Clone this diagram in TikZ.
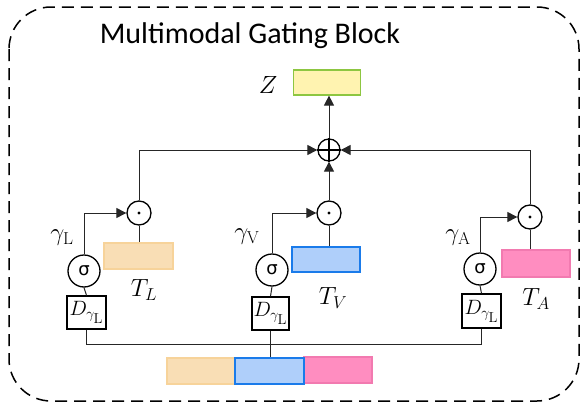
\documentclass[tikz,border=0pt]{standalone}
\usepackage[no-math]{fontspec}
\setmainfont{Carlito}
\newfontfamily\sigfont{DejaVu Sans}
\usetikzlibrary{arrows.meta}
\definecolor{orf}{HTML}{F9DEB5}
\definecolor{ord}{HTML}{F7D39A}
\definecolor{blf}{HTML}{AFCFFA}
\definecolor{bld}{HTML}{1A7BEA}
\definecolor{pkf}{HTML}{FF8DC0}
\definecolor{pkd}{HTML}{F27AB0}
\definecolor{zf}{HTML}{FFF3B0}
\definecolor{zd}{HTML}{8DC641}
\newcommand{\dgam}{$D_{\gamma_{\scriptstyle\mathrm{L}}}$}
\begin{document}
\begin{tikzpicture}[x=1pt,y=-1pt,
  conn/.style={line width=1pt, draw=black!85},
  arr/.style={conn, -{Triangle[length=10pt,width=10pt]}},
  sigc/.style={circle, draw, line width=1.3pt, minimum size=32pt, inner sep=0pt, font=\sigfont\fontsize{18}{18}\selectfont},
  odc/.style={circle, draw, line width=1.3pt, minimum size=24pt, inner sep=0pt},
  dbox/.style={rectangle, draw, line width=1.3pt, minimum width=39pt, minimum height=33pt, inner sep=0pt, font=\fontsize{20}{20}\selectfont},
  bar/.style={rectangle, line width=1.2pt, minimum width=68pt, minimum height=26pt, inner sep=0pt},
  lab/.style={font=\fontsize{24}{24}\selectfont, inner sep=0pt}]
\useasboundingbox (0,0) rectangle (582,410);
\draw[line width=1.5pt, dash pattern=on 12pt off 7pt, rounded corners=42pt] (9,7) rectangle (579,401);
\node[font=\fontsize{30}{30}\selectfont, anchor=base, inner sep=0pt] (title) at (250,43) {Multimodal Gating Block};

% Z
\node[bar, fill=zf, draw=zd, minimum width=67pt, minimum height=25pt] (Z) at (327,82.5) {};
\node[lab] (Zl) at (268,85) {$Z$};
% oplus
\node[circle, draw, line width=1.3pt, minimum size=22pt, inner sep=0pt] (op) at (329,150) {};
\draw[line width=1.3pt] (op.north) -- (op.south) (op.west) -- (op.east);

% Left
\node[odc] (odL) at (139,213) {};
\fill (odL.center) circle (1.6pt);
\node[sigc] (sigL) at (84,271) {σ};
\node[dbox] (DL) at (86.5,312.5) {\dgam};
\node[bar, fill=orf, draw=ord, minimum width=69pt] (TL) at (138.5,256) {};
\node[lab] (gL) at (62,238) {$\gamma_{\mathrm{L}}$};
\node[lab] (tL) at (144,290) {$T_L$};

% Middle
\node[odc] (odV) at (329,213) {};
\fill (odV.center) circle (1.6pt);
\node[sigc] (sigV) at (272,270) {σ};
\node[dbox, minimum width=37pt] (DV) at (270.5,313.5) {\dgam};
\node[bar, fill=blf, draw=bld, minimum height=25pt] (TV) at (326,259.5) {};
\node[lab] (gV) at (247,237) {$\gamma_{\mathrm{V}}$};
\node[lab] (tV) at (333,298) {$T_V$};

% Right
\node[odc] (odA) at (530,217) {};
\fill (odA.center) circle (1.6pt);
\node[sigc] (sigA) at (480,269) {σ};
\node[dbox, minimum height=34pt] (DA) at (481.5,311) {\dgam};
\node[bar, fill=pkf, draw=pkd, minimum height=27pt] (TA) at (536,263.5) {};
\node[lab] (gA) at (458,238) {$\gamma_{\mathrm{A}}$};
\node[lab] (tA) at (536,299) {$T_A$};

% bottom bars
\node[bar, fill=orf, draw=ord] (b1) at (201,371) {};
\node[bar, fill=pkf, draw=pkd] (b3) at (338,370) {};
\node[bar, fill=blf, draw=bld, minimum width=69pt] (b2) at (269.5,371) {};

% connectors
\coordinate (bus) at (0,344);
\draw[conn] (DL.north) -- (sigL.south);
\draw[conn] (DV.north) -- (sigV.south);
\draw[conn] (DA.north) -- (sigA.south);
\draw[arr] (sigL.north) |- (odL.west);
\draw[arr] (sigV.north) |- (odV.west);
\draw[arr] (sigA.north) |- (odA.west);
\draw[conn] (odL.south) -- (odL.south |- TL.north);
\draw[conn] (odV.south) -- (odV.south |- TV.north);
\draw[conn] (odA.south) -- (odA.south |- TA.north);
\draw[arr] (odL.north) |- (op.west);
\draw[arr] (odV.north) -- (op.south);
\draw[arr] (odA.north) |- (op.east);
\draw[arr] (op.north) -- (op.north |- Z.south);
\draw[conn] (DL.south) -- (DL.south |- bus) -- (DA.south |- bus) -- (DA.south);
\draw[conn] (DV.south) -- (DV.south |- b2.north);
\end{tikzpicture}
\end{document}
